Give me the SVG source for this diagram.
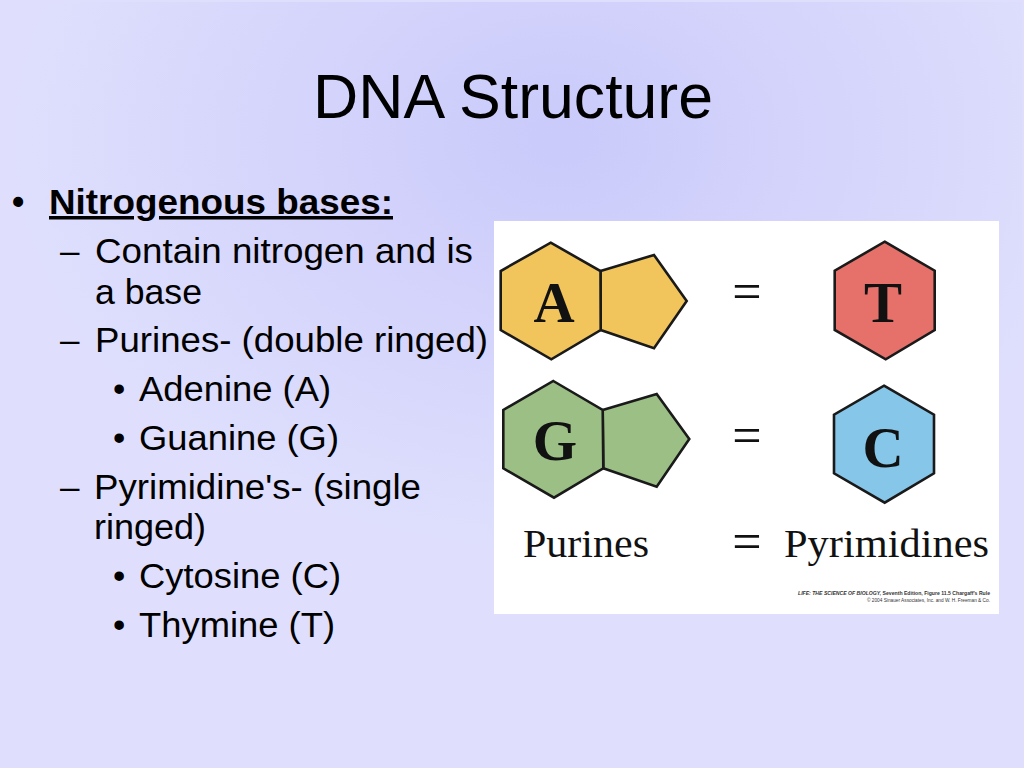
<svg xmlns="http://www.w3.org/2000/svg" width="1024" height="768" viewBox="0 0 1024 768">
  <defs>
    <radialGradient id="bg" cx="560" cy="140" r="560" gradientUnits="userSpaceOnUse" gradientTransform="translate(560 140) scale(1 0.75) translate(-560 -140)">
      <stop offset="0" stop-color="#cacafb"/>
      <stop offset="0.55" stop-color="#d6d6fc"/>
      <stop offset="1" stop-color="#dfdffd"/>
    </radialGradient>
    <style>
      .body { font-family: "Liberation Sans", Arial, sans-serif; font-size: 35px; fill: #000; }
      .title { font-family: "Liberation Sans", Arial, sans-serif; font-size: 63px; fill: #000; }
      .ring { stroke: #1a1a1a; stroke-width: 2.6; stroke-linejoin: miter; }
      .letter { font-family: "Liberation Serif", "Times New Roman", serif; font-weight: bold; font-size: 57px; fill: #111; text-anchor: middle; }
      .serif { font-family: "Liberation Serif", "Times New Roman", serif; fill: #111; }
      .credit { font-family: "Liberation Sans", Arial, sans-serif; font-size: 5px; fill: #333; text-anchor: end; }
    </style>
  </defs>

  <rect x="0" y="0" width="1024" height="768" fill="#dfdffd"/>
  <rect x="2" y="2" width="1020" height="764" fill="url(#bg)"/>

  <g id="title">
    <text class="title" x="513" y="118" text-anchor="middle" textLength="400" lengthAdjust="spacingAndGlyphs">DNA Structure</text>
  </g>

  <g id="bullets">
    <text class="body" x="12" y="214" font-weight="bold">•</text>
    <text class="body" x="49" y="214" font-weight="bold" text-decoration="underline" textLength="344" lengthAdjust="spacingAndGlyphs">Nitrogenous bases:</text>

    <text class="body" x="60" y="263">–</text>
    <text class="body" x="95" y="263" textLength="378" lengthAdjust="spacingAndGlyphs">Contain nitrogen and is</text>
    <text class="body" x="95" y="304" textLength="107" lengthAdjust="spacingAndGlyphs">a base</text>

    <text class="body" x="60" y="352">–</text>
    <text class="body" x="95" y="352" textLength="393" lengthAdjust="spacingAndGlyphs">Purines- (double ringed)</text>

    <text class="body" x="113" y="401">•</text>
    <text class="body" x="139" y="401" textLength="192" lengthAdjust="spacingAndGlyphs">Adenine (A)</text>

    <text class="body" x="113" y="450">•</text>
    <text class="body" x="139" y="450" textLength="200" lengthAdjust="spacingAndGlyphs">Guanine (G)</text>

    <text class="body" x="60" y="499">–</text>
    <text class="body" x="94" y="499" textLength="327" lengthAdjust="spacingAndGlyphs">Pyrimidine's- (single</text>
    <text class="body" x="94" y="539" textLength="112" lengthAdjust="spacingAndGlyphs">ringed)</text>

    <text class="body" x="113" y="588">•</text>
    <text class="body" x="139" y="588" textLength="202" lengthAdjust="spacingAndGlyphs">Cytosine (C)</text>

    <text class="body" x="113" y="637">•</text>
    <text class="body" x="139" y="637" textLength="196" lengthAdjust="spacingAndGlyphs">Thymine (T)</text>
  </g>

  <g id="figure">
    <rect x="494" y="221" width="505" height="393" fill="#ffffff"/>

    <g id="node-A">
      <polygon class="ring" fill="#f1c45c" points="600.5,271 654,255 686.7,301 654,348.3 600.7,330"/>
      <polygon class="ring" fill="#f1c45c" points="550.7,242.7 600.5,271 600.7,330 551.3,359.3 500.7,330 500.7,271"/>
      <text class="letter" x="554" y="322">A</text>
    </g>

    <g id="node-T">
      <polygon class="ring" fill="#e5716a" points="884.7,241.7 934.7,270.7 934.7,330 885.7,359.3 834.7,330 834.7,270.7"/>
      <text class="letter" x="883" y="322">T</text>
    </g>

    <g id="node-G">
      <polygon class="ring" fill="#9cbf86" points="602.7,410 656.7,394 689.3,439 656.7,486.7 603.3,468.3"/>
      <polygon class="ring" fill="#9cbf86" points="553.3,381 602.7,410 603.3,468.3 554,497.7 503.3,468.3 503.3,410"/>
      <text class="letter" x="555" y="460">G</text>
    </g>

    <g id="node-C">
      <polygon class="ring" fill="#86c6e8" points="884,385.7 934,414.7 934,473.3 884.7,502.7 834,473.3 834,414.7"/>
      <text class="letter" x="883" y="467">C</text>
    </g>

    <g id="equals">
      <text class="serif" x="747" y="309" font-size="52" text-anchor="middle">=</text>
      <text class="serif" x="747" y="453" font-size="52" text-anchor="middle">=</text>
      <text class="serif" x="747" y="559" font-size="52" text-anchor="middle">=</text>
    </g>

    <g id="labels">
      <text class="serif" x="523" y="557" font-size="41" textLength="126" lengthAdjust="spacingAndGlyphs">Purines</text>
      <text class="serif" x="784" y="557" font-size="41" textLength="205" lengthAdjust="spacingAndGlyphs">Pyrimidines</text>
    </g>

    <g id="credit">
      <text class="credit" x="990" y="595" font-weight="bold" textLength="192" lengthAdjust="spacingAndGlyphs"><tspan font-style="italic">LIFE: THE SCIENCE OF BIOLOGY,</tspan> Seventh Edition, Figure 11.5 Chargaff's Rule</text>
      <text class="credit" x="990" y="601.5" textLength="123" lengthAdjust="spacingAndGlyphs">© 2004 Sinauer Associates, Inc. and W. H. Freeman &amp; Co.</text>
    </g>
  </g>
</svg>
